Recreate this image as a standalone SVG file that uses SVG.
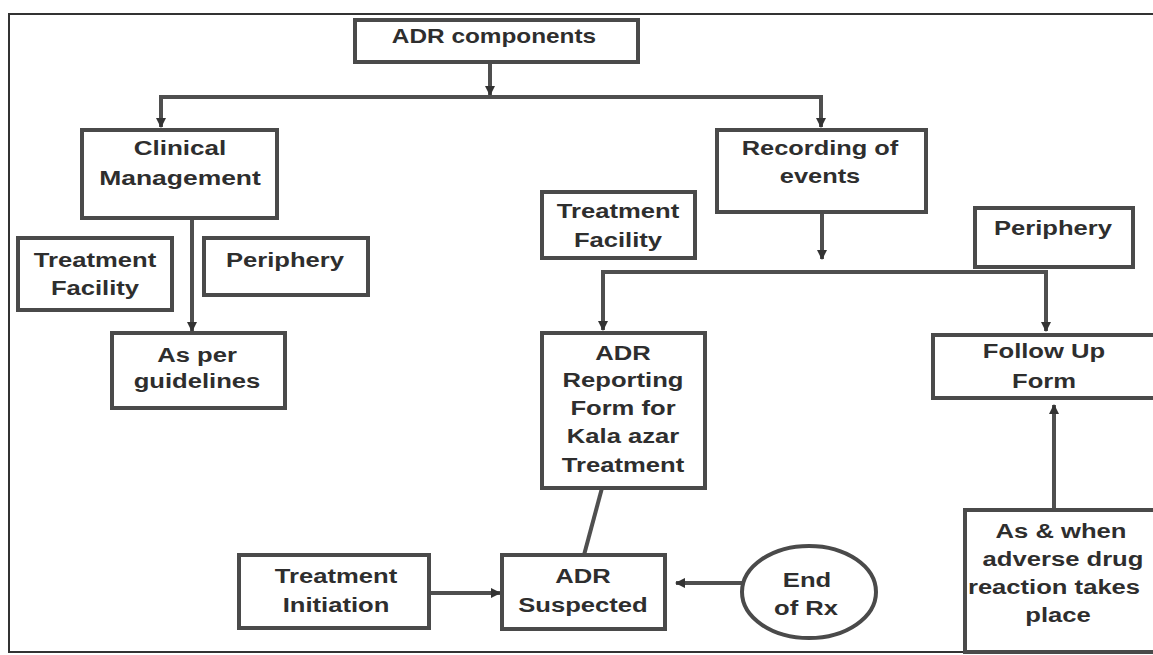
<svg xmlns="http://www.w3.org/2000/svg" width="1153" height="655" viewBox="0 0 1153 655">
<style>
.box{fill:#fff;stroke:#4a4a4a;stroke-width:4}
.t{font-family:"Liberation Sans",Arial,sans-serif;font-size:21px;font-weight:bold;fill:#2e2e2e;text-anchor:middle}
.c{fill:none;stroke:#4f4f4f;stroke-width:4}
</style>
<defs>
<marker id="ah" viewBox="0 0 10 10" refX="9" refY="5" markerWidth="2.6" markerHeight="2.6" orient="auto" markerUnits="strokeWidth">
<path d="M0,0 L10,5 L0,10 z" fill="#333"/>
</marker>
</defs>
<rect width="1153" height="655" fill="#fff"/>
<path d="M1153,14 H9 V652 H1153" fill="none" stroke="#333" stroke-width="2"/>
<g id="connectors">
<path class="c" d="M490,62 V95" marker-end="url(#ah)"/>
<path class="c" d="M161,126 V97 H821 V126"/>
<path class="c" d="M161,98 V127" marker-end="url(#ah)"/>
<path class="c" d="M821,98 V127" marker-end="url(#ah)"/>
<path class="c" d="M192,218 V331" marker-end="url(#ah)"/>
<path class="c" d="M822,212 V259" marker-end="url(#ah)"/>
<path class="c" d="M603,328 V272 H1046 V328"/>
<path class="c" d="M603,273 V330" marker-end="url(#ah)"/>
<path class="c" d="M1046,273 V331" marker-end="url(#ah)"/>
<path class="c" d="M602,488 L584,555"/>
<path class="c" d="M429,593 H500" marker-end="url(#ah)"/>
<path class="c" d="M742,583 H676" marker-end="url(#ah)"/>
<path class="c" d="M1054,510 V405" marker-end="url(#ah)"/>
</g>
<g id="adr-components"><rect class="box" x="355" y="20" width="283" height="42"/><text class="t" transform="translate(494,43) scale(1.16,1)">ADR components</text></g>
<g id="clinical-management"><rect class="box" x="82" y="130" width="195" height="88"/><text class="t" transform="translate(180,155) scale(1.24,1)">Clinical</text><text class="t" transform="translate(180,185) scale(1.26,1)">Management</text></g>
<g id="recording-of-events"><rect class="box" x="717" y="130" width="209" height="82"/><text class="t" transform="translate(820,155) scale(1.21,1)">Recording of</text><text class="t" transform="translate(820,183) scale(1.21,1)">events</text></g>
<g id="treatment-facility-left"><rect class="box" x="18" y="238" width="154" height="72"/><text class="t" transform="translate(95,267) scale(1.22,1)">Treatment</text><text class="t" transform="translate(95,295) scale(1.22,1)">Facility</text></g>
<g id="periphery-left"><rect class="box" x="204" y="238" width="164" height="57"/><text class="t" transform="translate(285,267) scale(1.22,1)">Periphery</text></g>
<g id="as-per-guidelines"><rect class="box" x="112" y="333" width="173" height="75"/><text class="t" transform="translate(197,362) scale(1.22,1)">As per</text><text class="t" transform="translate(197,388) scale(1.22,1)">guidelines</text></g>
<g id="treatment-facility-mid"><rect class="box" x="542" y="192" width="153" height="66"/><text class="t" transform="translate(618,218) scale(1.22,1)">Treatment</text><text class="t" transform="translate(618,247) scale(1.22,1)">Facility</text></g>
<g id="periphery-right"><rect class="box" x="975" y="208" width="158" height="59"/><text class="t" transform="translate(1053,235) scale(1.22,1)">Periphery</text></g>
<g id="adr-reporting-form"><rect class="box" x="542" y="333" width="163" height="155"/><text class="t" transform="translate(623,360) scale(1.22,1)">ADR</text><text class="t" transform="translate(623,387) scale(1.22,1)">Reporting</text><text class="t" transform="translate(623,415) scale(1.22,1)">Form for</text><text class="t" transform="translate(623,443) scale(1.22,1)">Kala azar</text><text class="t" transform="translate(623,472) scale(1.22,1)">Treatment</text></g>
<g id="follow-up-form"><rect class="box" x="933" y="335" width="225" height="63"/><text class="t" transform="translate(1044,358) scale(1.22,1)">Follow Up</text><text class="t" transform="translate(1044,388) scale(1.22,1)">Form</text></g>
<g id="adr-suspected"><rect class="box" x="502" y="555" width="163" height="74"/><text class="t" transform="translate(583,583) scale(1.22,1)">ADR</text><text class="t" transform="translate(583,612) scale(1.22,1)">Suspected</text></g>
<g id="treatment-initiation"><rect class="box" x="239" y="555" width="190" height="73"/><text class="t" transform="translate(336,583) scale(1.22,1)">Treatment</text><text class="t" transform="translate(336,612) scale(1.22,1)">Initiation</text></g>
<g id="end-of-rx"><ellipse class="box" cx="809" cy="592" rx="67" ry="46"/><text class="t" transform="translate(807,587) scale(1.22,1)">End</text><text class="t" transform="translate(806,615) scale(1.22,1)">of Rx</text></g>
<g id="as-and-when"><rect class="box" x="965" y="510" width="195" height="142"/><text class="t" transform="translate(1061,538) scale(1.22,1)">As &amp; when</text><text class="t" transform="translate(1063,566) scale(1.22,1)">adverse drug</text><text class="t" transform="translate(1054,594) scale(1.22,1)">reaction takes</text><text class="t" transform="translate(1058,622) scale(1.22,1)">place</text></g>
</svg>
